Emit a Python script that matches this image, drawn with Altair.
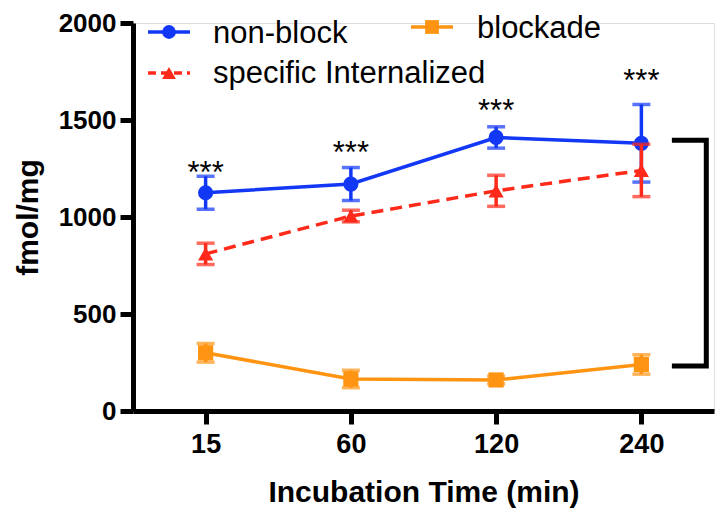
import altair as alt
import pandas as pd

# ---------------- data ----------------
times = ["15", "60", "120", "240"]
series = ["non-block", "specific Internalized", "blockade"]
nonblock_mean = [1125, 1170, 1410, 1380]
nonblock_err = [85, 85, 55, 200]
internal_mean = [810, 1005, 1135, 1240]
internal_err = [55, 30, 80, 135]
blockade_mean = [300, 165, 160, 240]
blockade_err = [48, 45, 20, 50]
stars = ["***", "***", "***", "***"]
star_y = [1263, 1366, 1582, 1737]
bracket_x = [3.21, 3.447, 3.447, 3.21]
bracket_y = [1395, 1395, 232, 232]
colors = ["#1238f5", "#ff2a1a", "#ff9412"]
y_ticks = [0, 500, 1000, 1500, 2000]

FONT = "Liberation Sans"


def frame(means, errs):
    return pd.DataFrame({
        "idx": list(range(len(times))),
        "mean": means,
        "lo": [m - e for m, e in zip(means, errs)],
        "hi": [m + e for m, e in zip(means, errs)],
    })


label_expr = "[" + ",".join("'%s'" % t for t in times) + "][datum.value]"

x_axis = alt.Axis(
    values=list(range(len(times))), labelExpr=label_expr, title="Incubation Time (min)",
    grid=False, domainWidth=5, domainColor="black", tickWidth=5, tickColor="black",
    tickSize=13, labelFont=FONT, labelFontWeight="bold", labelFontSize=27, labelColor="black",
    labelPadding=7, titleFont=FONT, titleFontWeight="bold", titleFontSize=30, titleColor="black",
    titleX=290.5, titleY=90, titleBaseline="alphabetic", titleAlign="center",
)
y_axis = alt.Axis(
    values=y_ticks, format="d", title="fmol/mg", grid=False, domainWidth=5, domainColor="black",
    tickWidth=5, tickColor="black", tickSize=13, labelFont=FONT, labelFontWeight="bold",
    labelFontSize=26, labelColor="black", labelPadding=4, titleFont=FONT,
    titleFontWeight="bold", titleFontSize=30, titleColor="black", titleX=-96, titleY=194,
    titleBaseline="alphabetic", titleAlign="center", titleAngle=270,
)
x_scale = alt.Scale(domain=[-0.5, len(times) - 0.5], nice=False, zero=False)
y_scale = alt.Scale(domain=[0, 2000], nice=False)


def X(field):
    return alt.X(field, type="quantitative", scale=x_scale, axis=x_axis)


def Y(field):
    return alt.Y(field, type="quantitative", scale=y_scale, axis=y_axis)


def series_layers(df, color, shape, dash=None):
    base = alt.Chart(df)
    line_kw = dict(color=color, strokeWidth=3.5)
    if dash:
        line_kw["strokeDash"] = dash
    line = base.mark_line(**line_kw).encode(x=X("idx"), y=Y("mean"))
    bar = base.mark_rule(color=color, strokeWidth=3.5).encode(x=X("idx"), y=Y("lo"), y2="hi")
    cap_hi = base.mark_tick(color=color, orient="horizontal", size=18, thickness=3.5).encode(
        x=X("idx"), y=Y("hi"))
    cap_lo = base.mark_tick(color=color, orient="horizontal", size=18, thickness=3.5).encode(
        x=X("idx"), y=Y("lo"))
    pts = base.mark_point(shape=shape, filled=True, opacity=1, size=230, color=color).encode(
        x=X("idx"), y=Y("mean"))
    return [line, bar, cap_hi, cap_lo, pts]


layers = []
layers += series_layers(frame(nonblock_mean, nonblock_err), colors[0], "circle")
layers += series_layers(frame(blockade_mean, blockade_err), colors[2], "square")
layers += series_layers(frame(internal_mean, internal_err), colors[1], "triangle-up", [12, 7])

# significance stars
star_df = pd.DataFrame({"idx": list(range(len(times))), "y": star_y, "s": stars})
layers.append(
    alt.Chart(star_df).mark_text(font=FONT, fontSize=31, color="black", baseline="alphabetic",
                                 dy=17).encode(x=X("idx"), y=Y("y"), text="s:N")
)

# bracket
br_df = pd.DataFrame({"idx": bracket_x, "y": bracket_y, "o": list(range(len(bracket_x)))})
layers.append(
    alt.Chart(br_df).mark_line(color="black", strokeWidth=5, strokeJoin="miter").encode(
        x=X("idx"), y=Y("y"), order="o:Q")
)

# custom legend (pixel layout)
legend_items = [
    # name, color, shape, dash, line x0, x1, line y, text x, text baseline y
    (series[0], colors[0], "circle", None, 15, 57, 9, 80, 20),
    (series[1], colors[1], "triangle-up", [8, 5], 15, 57, 50, 80, 60),
    (series[2], colors[2], "square", None, 278, 320, 4, 344, 15),
]
for name, col, shp, dash, lx0, lx1, ly, tx, ty in legend_items:
    ldf = pd.DataFrame({"label": [name]})
    kw = dict(color=col, strokeWidth=3.5)
    if dash:
        kw["strokeDash"] = dash
    layers.append(alt.Chart(ldf).mark_rule(**kw).encode(
        x=alt.value(lx0), x2=alt.value(lx1), y=alt.value(ly)))
    layers.append(alt.Chart(ldf).mark_point(shape=shp, filled=True, opacity=1, size=190,
                                            color=col).encode(
        x=alt.value((lx0 + lx1) / 2), y=alt.value(ly)))
    layers.append(alt.Chart(ldf).mark_text(font=FONT, fontSize=31, color="black",
                                           align="left", baseline="alphabetic").encode(
        x=alt.value(tx), y=alt.value(ty), text="label:N"))

chart = alt.layer(*layers).properties(
    width=581, height=388,
    autosize=alt.AutoSizeParams(type="none"),
    padding={"left": 125, "top": 15, "right": 6, "bottom": 103},
).configure_view(stroke=None).configure(font=FONT)

chart.save("out.html", embed_options={"renderer": "svg", "actions": False})
